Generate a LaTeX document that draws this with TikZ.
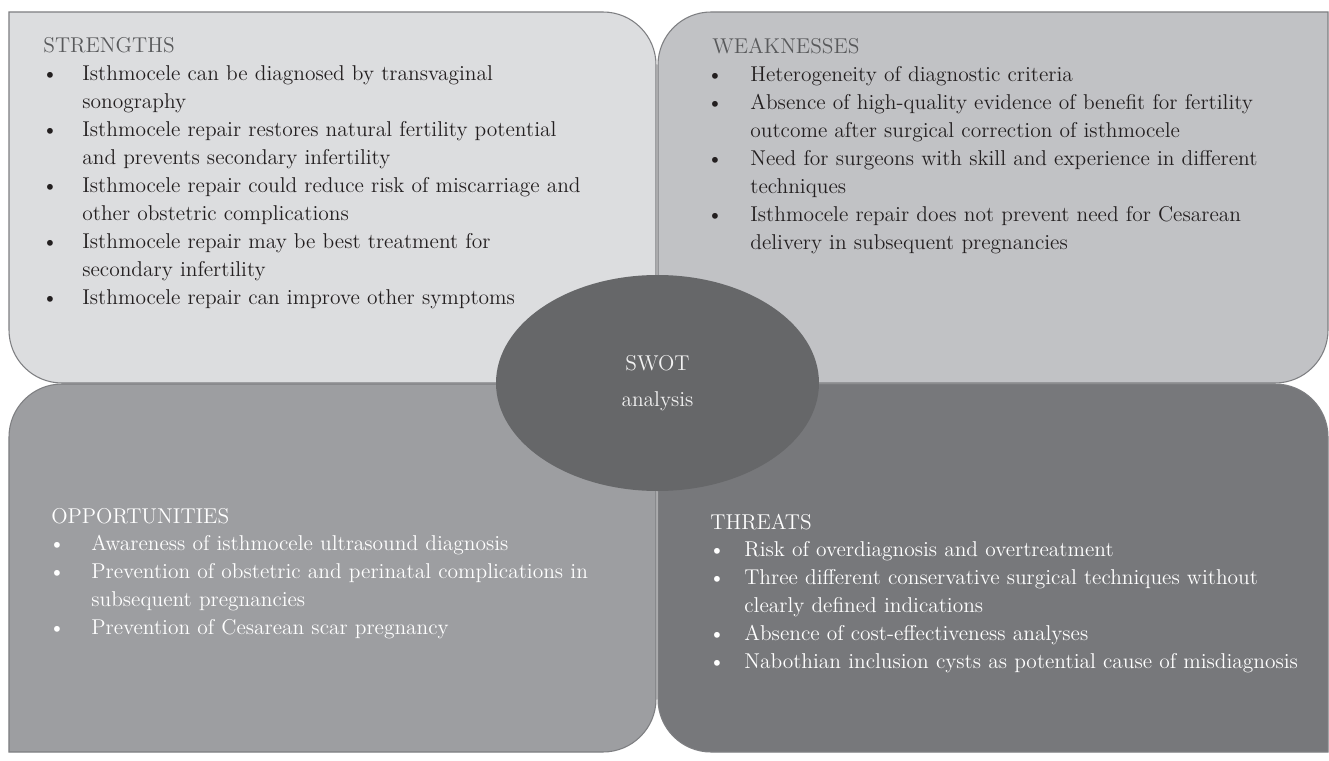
\documentclass[tikz,border=0pt]{standalone}
\usepackage{xcolor}
\usepackage{tikz}
\usetikzlibrary{shapes.geometric}
\definecolor{strengthfill}{HTML}{DCDDDF}
\definecolor{weakfill}{HTML}{C1C2C5}
\definecolor{oppfill}{HTML}{9D9EA1}
\definecolor{threatfill}{HTML}{77787B}
\definecolor{swotfill}{HTML}{666769}
\definecolor{edgegray}{HTML}{7E7F82}
\definecolor{titlegray}{HTML}{58595B}
\definecolor{textdark}{HTML}{231F20}

% hanging bullet items inside the quadrant text nodes
\newlength{\itemhang}
\newlength{\bulletshift}
\newcommand{\swotitem}[1]{\par\hangindent=\itemhang\hangafter=1\noindent
  \makebox[\itemhang][l]{\hspace{\bulletshift}\textbullet}#1\par}

\begin{document}
\begin{tikzpicture}[
  x=1cm,
  y=1cm,
  quad/.style={draw=edgegray, line width=0.6pt},
  swottext/.style={anchor=base west, inner sep=0pt, align=left,
    font=\fontsize{12.2}{15.9}\selectfont},
  bullets/.style 2 args={execute at begin node={%
    \setlength{\itemhang}{#1}\setlength{\bulletshift}{#2}}}
]

\path[use as bounding box, fill=white] (0,0) rectangle (26.58,15.2);

% four quadrants, rounded on alternate corners
\draw[quad, fill=strengthfill] (0.18,14.96) -- (12.06,14.96)
  arc[start angle=90, end angle=0, radius=1.06] -- (13.12,7.54) -- (1.24,7.54)
  arc[start angle=270, end angle=180, radius=1.06] -- cycle;
\draw[quad, fill=weakfill] (13.16,7.54) -- (13.16,13.90)
  arc[start angle=180, end angle=90, radius=1.06] -- (26.56,14.96) -- (26.56,8.60)
  arc[start angle=0, end angle=-90, radius=1.06] -- cycle;
\draw[quad, fill=oppfill] (0.18,0.16) -- (0.18,6.46)
  arc[start angle=180, end angle=90, radius=1.06] -- (13.12,7.52) -- (13.12,1.22)
  arc[start angle=0, end angle=-90, radius=1.06] -- cycle;
\draw[quad, fill=threatfill] (13.16,7.52) -- (25.50,7.52)
  arc[start angle=90, end angle=0, radius=1.06] -- (26.56,0.16) -- (14.22,0.16)
  arc[start angle=270, end angle=180, radius=1.06] -- cycle;

\node[swottext, bullets={0.78cm}{-0.03cm}, text width=11.4cm, text=textdark]
  (strengths) at (0.86,14.14) {%
  {\color{titlegray}STRENGTHS}
  \swotitem{Isthmocele can be diagnosed by transvaginal\newline sonography}
  \swotitem{Isthmocele repair restores natural fertility potential\newline and prevents secondary infertility}
  \swotitem{Isthmocele repair could reduce risk of miscarriage and\newline other obstetric complications}
  \swotitem{Isthmocele repair may be best treatment for\newline secondary infertility}
  \swotitem{Isthmocele repair can improve other symptoms}};

\node[swottext, bullets={0.76cm}{-0.11cm}, text width=11.6cm, text=textdark]
  (weaknesses) at (14.24,14.12) {%
  {\color{titlegray}WEAKNESSES}
  \swotitem{Heterogeneity of diagnostic criteria}
  \swotitem{Absence of high-quality evidence of benefit for fertility\newline outcome after surgical correction of isthmocele}
  \swotitem{Need for surgeons with skill and experience in different\newline techniques}
  \swotitem{Isthmocele repair does not prevent need for Cesarean\newline delivery in subsequent pregnancies}};

\node[swottext, bullets={0.80cm}{-0.05cm}, text width=11.2cm, text=white]
  (opportunities) at (1.02,4.74) {%
  OPPORTUNITIES
  \swotitem{Awareness of isthmocele ultrasound diagnosis}
  \swotitem{Prevention of obstetric and perinatal complications in\newline subsequent pregnancies}
  \swotitem{Prevention of Cesarean scar pregnancy}};

\node[swottext, bullets={0.68cm}{-0.03cm}, text width=12.0cm, text=white]
  (threats) at (14.20,4.62) {%
  THREATS
  \swotitem{Risk of overdiagnosis and overtreatment}
  \swotitem{Three different conservative surgical techniques without\newline clearly defined indications}
  \swotitem{Absence of cost-effectiveness analyses}
  \swotitem{Nabothian inclusion cysts as potential cause of misdiagnosis}};

% centre label
\node[ellipse, fill=swotfill, minimum width=6.46cm, minimum height=4.32cm,
  inner sep=0pt, align=center, text=white!95!black,
  font=\fontsize{12.2}{20.5}\selectfont] (swot) at (13.15,7.54)
  {SWOT\\analysis};

\end{tikzpicture}
\end{document}
